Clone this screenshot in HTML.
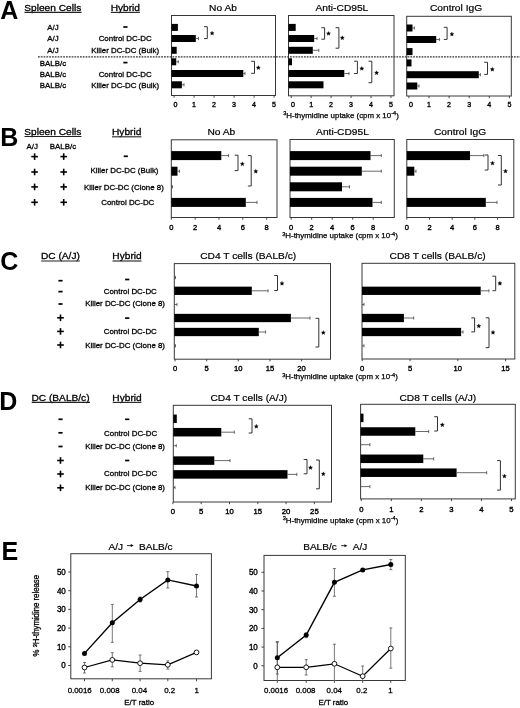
<!DOCTYPE html>
<html><head><meta charset="utf-8"><style>
html,body{margin:0;padding:0;background:#fff;}
body{width:520px;height:708px;overflow:hidden;}
svg{display:block;font-family:"Liberation Sans", sans-serif;will-change:transform;}
#w{width:520px;height:708px;background:#fff;}
</style></head><body>
<div id="w"><svg width="520" height="708" viewBox="0 0 520 708">
<rect width="520" height="708" fill="#fff"/>
<text x="0.3" y="19.4" font-size="25" text-anchor="start" font-weight="bold" fill="#000" >A</text>
<text transform="translate(24.3,10.9) scale(1.075,1.0)" font-size="9.45" text-anchor="start" font-weight="normal" fill="#000" stroke="#000" stroke-width="0.3" >Spleen Cells</text>
<line x1="24.5" y1="12.4" x2="81.5" y2="12.4" stroke="#222" stroke-width="1.1" />
<text transform="translate(125.3,10.9) scale(1.075,1.0)" font-size="9.45" text-anchor="middle" font-weight="normal" fill="#000" stroke="#000" stroke-width="0.3" >Hybrid</text>
<line x1="110.8" y1="12.4" x2="139.9" y2="12.4" stroke="#222" stroke-width="1.1" />
<text x="53.0" y="29.9" font-size="7.9" text-anchor="middle" font-weight="normal" fill="#000" stroke="#000" stroke-width="0.284" >A/J</text>
<text x="53.0" y="41.1" font-size="7.9" text-anchor="middle" font-weight="normal" fill="#000" stroke="#000" stroke-width="0.284" >A/J</text>
<text x="53.0" y="52.5" font-size="7.9" text-anchor="middle" font-weight="normal" fill="#000" stroke="#000" stroke-width="0.284" >A/J</text>
<text x="53.0" y="65.5" font-size="7.9" text-anchor="middle" font-weight="normal" fill="#000" stroke="#000" stroke-width="0.284" >BALB/c</text>
<text x="53.0" y="76.5" font-size="7.9" text-anchor="middle" font-weight="normal" fill="#000" stroke="#000" stroke-width="0.284" >BALB/c</text>
<text x="53.0" y="87.9" font-size="7.9" text-anchor="middle" font-weight="normal" fill="#000" stroke="#000" stroke-width="0.284" >BALB/c</text>
<line x1="123.30000000000001" y1="27.0" x2="127.5" y2="27.0" stroke="#000" stroke-width="1.7" />
<text x="125.2" y="41.1" font-size="7.9" text-anchor="middle" font-weight="normal" fill="#000" stroke="#000" stroke-width="0.284" >Control DC-DC</text>
<text x="125.2" y="52.5" font-size="7.9" text-anchor="middle" font-weight="normal" fill="#000" stroke="#000" stroke-width="0.284" >Killer DC-DC (Bulk)</text>
<line x1="123.30000000000001" y1="62.6" x2="127.5" y2="62.6" stroke="#000" stroke-width="1.7" />
<text x="125.2" y="76.5" font-size="7.9" text-anchor="middle" font-weight="normal" fill="#000" stroke="#000" stroke-width="0.284" >Control DC-DC</text>
<text x="125.2" y="87.9" font-size="7.9" text-anchor="middle" font-weight="normal" fill="#000" stroke="#000" stroke-width="0.284" >Killer DC-DC (Bulk)</text>
<line x1="38" y1="56.9" x2="520" y2="56.9" stroke="#333" stroke-width="1.1" stroke-dasharray="1.75,1.05"/>
<rect x="171.5" y="15.5" width="104.0" height="80.0" fill="none" stroke="#383838" stroke-width="1"/>
<text transform="translate(223.0,11.3) scale(1.075,1.0)" font-size="9.5" text-anchor="middle" font-weight="normal" fill="#000" stroke="#000" stroke-width="0.2" >No Ab</text>
<rect x="171.5" y="23.9" width="6.400000000000006" height="7.0" fill="#000"/>
<rect x="171.5" y="35.0" width="24.30000000000001" height="7.0" fill="#000"/>
<line x1="195.8" y1="38.5" x2="198.5" y2="38.5" stroke="#444" stroke-width="0.8" />
<line x1="198.5" y1="36.9" x2="198.5" y2="40.1" stroke="#444" stroke-width="0.8" />
<rect x="171.5" y="46.8" width="5.199999999999989" height="7.0" fill="#000"/>
<rect x="171.5" y="58.3" width="4.699999999999989" height="7.0" fill="#000"/>
<line x1="176.2" y1="61.8" x2="178.3" y2="61.8" stroke="#444" stroke-width="0.8" />
<line x1="178.3" y1="60.199999999999996" x2="178.3" y2="63.4" stroke="#444" stroke-width="0.8" />
<rect x="171.5" y="70.0" width="71.80000000000001" height="7.0" fill="#000"/>
<line x1="243.3" y1="73.5" x2="245.0" y2="73.5" stroke="#444" stroke-width="0.8" />
<line x1="245.0" y1="71.9" x2="245.0" y2="75.1" stroke="#444" stroke-width="0.8" />
<rect x="171.5" y="81.3" width="10.400000000000006" height="7.0" fill="#000"/>
<line x1="181.9" y1="84.8" x2="184.0" y2="84.8" stroke="#444" stroke-width="0.8" />
<line x1="184.0" y1="83.2" x2="184.0" y2="86.39999999999999" stroke="#444" stroke-width="0.8" />
<polyline points="204.0,26.7 207.3,26.7 207.3,38.6 204.0,38.6" fill="none" stroke="#333" stroke-width="1"/>
<polygon points="212.10,31.15 212.69,32.49 214.14,32.64 213.05,33.61 213.36,35.04 212.10,34.30 210.84,35.04 211.15,33.61 210.06,32.64 211.51,32.49" fill="#000" stroke="#000" stroke-width="0.3"/>
<polyline points="251.2,61.3 254.5,61.3 254.5,73.3 251.2,73.3" fill="none" stroke="#333" stroke-width="1"/>
<polygon points="258.30,65.55 258.89,66.89 260.34,67.04 259.25,68.01 259.56,69.44 258.30,68.70 257.04,69.44 257.35,68.01 256.26,67.04 257.71,66.89" fill="#000" stroke="#000" stroke-width="0.3"/>
<line x1="174.1" y1="95.5" x2="174.1" y2="97.7" stroke="#333" stroke-width="0.9" />
<text x="175.5" y="106.5" font-size="7.1" text-anchor="middle" font-weight="normal" fill="#000" stroke="#000" stroke-width="0.355" >0</text>
<line x1="194.1" y1="95.5" x2="194.1" y2="97.7" stroke="#333" stroke-width="0.9" />
<text x="194.1" y="106.5" font-size="7.1" text-anchor="middle" font-weight="normal" fill="#000" stroke="#000" stroke-width="0.355" >1</text>
<line x1="214.1" y1="95.5" x2="214.1" y2="97.7" stroke="#333" stroke-width="0.9" />
<text x="214.1" y="106.5" font-size="7.1" text-anchor="middle" font-weight="normal" fill="#000" stroke="#000" stroke-width="0.355" >2</text>
<line x1="234.1" y1="95.5" x2="234.1" y2="97.7" stroke="#333" stroke-width="0.9" />
<text x="234.1" y="106.5" font-size="7.1" text-anchor="middle" font-weight="normal" fill="#000" stroke="#000" stroke-width="0.355" >3</text>
<line x1="254.1" y1="95.5" x2="254.1" y2="97.7" stroke="#333" stroke-width="0.9" />
<text x="254.1" y="106.5" font-size="7.1" text-anchor="middle" font-weight="normal" fill="#000" stroke="#000" stroke-width="0.355" >4</text>
<line x1="274.1" y1="95.5" x2="274.1" y2="97.7" stroke="#333" stroke-width="0.9" />
<text x="274.1" y="106.5" font-size="7.1" text-anchor="middle" font-weight="normal" fill="#000" stroke="#000" stroke-width="0.355" >5</text>
<rect x="288.5" y="15.5" width="105.5" height="80.3" fill="none" stroke="#383838" stroke-width="1"/>
<text transform="translate(341.9,11.3) scale(1.075,1.0)" font-size="9.5" text-anchor="middle" font-weight="normal" fill="#000" stroke="#000" stroke-width="0.2" >Anti-CD95L</text>
<rect x="288.5" y="23.9" width="7.199999999999989" height="7.0" fill="#000"/>
<rect x="288.5" y="35.0" width="25.69999999999999" height="7.0" fill="#000"/>
<line x1="314.2" y1="38.5" x2="317.0" y2="38.5" stroke="#444" stroke-width="0.8" />
<line x1="317.0" y1="36.9" x2="317.0" y2="40.1" stroke="#444" stroke-width="0.8" />
<rect x="288.5" y="46.8" width="24.30000000000001" height="7.0" fill="#000"/>
<line x1="312.8" y1="50.3" x2="318.8" y2="50.3" stroke="#444" stroke-width="0.8" />
<line x1="318.8" y1="48.699999999999996" x2="318.8" y2="51.9" stroke="#444" stroke-width="0.8" />
<rect x="288.5" y="58.3" width="3.5" height="7.0" fill="#000"/>
<rect x="288.5" y="70.0" width="55.80000000000001" height="7.0" fill="#000"/>
<line x1="344.3" y1="73.5" x2="349.0" y2="73.5" stroke="#444" stroke-width="0.8" />
<line x1="349.0" y1="71.9" x2="349.0" y2="75.1" stroke="#444" stroke-width="0.8" />
<rect x="288.5" y="81.3" width="35.0" height="7.0" fill="#000"/>
<polyline points="321.3,27.7 324.6,27.7 324.6,39.2 321.3,39.2" fill="none" stroke="#333" stroke-width="1"/>
<polygon points="328.50,31.45 329.09,32.79 330.54,32.94 329.45,33.91 329.76,35.34 328.50,34.60 327.24,35.34 327.55,33.91 326.46,32.94 327.91,32.79" fill="#000" stroke="#000" stroke-width="0.3"/>
<polyline points="335.59999999999997,27.7 338.9,27.7 338.9,48.2 335.59999999999997,48.2" fill="none" stroke="#333" stroke-width="1"/>
<polygon points="342.30,35.75 342.89,37.09 344.34,37.24 343.25,38.21 343.56,39.64 342.30,38.90 341.04,39.64 341.35,38.21 340.26,37.24 341.71,37.09" fill="#000" stroke="#000" stroke-width="0.3"/>
<polyline points="354.09999999999997,61.2 357.4,61.2 357.4,73.5 354.09999999999997,73.5" fill="none" stroke="#333" stroke-width="1"/>
<polygon points="361.80,66.45 362.39,67.79 363.84,67.94 362.75,68.91 363.06,70.34 361.80,69.60 360.54,70.34 360.85,68.91 359.76,67.94 361.21,67.79" fill="#000" stroke="#000" stroke-width="0.3"/>
<polyline points="368.5,61.2 371.8,61.2 371.8,82.7 368.5,82.7" fill="none" stroke="#333" stroke-width="1"/>
<polygon points="376.60,70.75 377.19,72.09 378.64,72.24 377.55,73.21 377.86,74.64 376.60,73.90 375.34,74.64 375.65,73.21 374.56,72.24 376.01,72.09" fill="#000" stroke="#000" stroke-width="0.3"/>
<line x1="291.2" y1="95.8" x2="291.2" y2="98.0" stroke="#333" stroke-width="0.9" />
<text x="293.0" y="106.5" font-size="7.1" text-anchor="middle" font-weight="normal" fill="#000" stroke="#000" stroke-width="0.355" >0</text>
<line x1="311.15" y1="95.8" x2="311.15" y2="98.0" stroke="#333" stroke-width="0.9" />
<text x="311.15" y="106.5" font-size="7.1" text-anchor="middle" font-weight="normal" fill="#000" stroke="#000" stroke-width="0.355" >1</text>
<line x1="331.09999999999997" y1="95.8" x2="331.09999999999997" y2="98.0" stroke="#333" stroke-width="0.9" />
<text x="331.09999999999997" y="106.5" font-size="7.1" text-anchor="middle" font-weight="normal" fill="#000" stroke="#000" stroke-width="0.355" >2</text>
<line x1="351.04999999999995" y1="95.8" x2="351.04999999999995" y2="98.0" stroke="#333" stroke-width="0.9" />
<text x="351.04999999999995" y="106.5" font-size="7.1" text-anchor="middle" font-weight="normal" fill="#000" stroke="#000" stroke-width="0.355" >3</text>
<line x1="371.0" y1="95.8" x2="371.0" y2="98.0" stroke="#333" stroke-width="0.9" />
<text x="371.0" y="106.5" font-size="7.1" text-anchor="middle" font-weight="normal" fill="#000" stroke="#000" stroke-width="0.355" >4</text>
<line x1="390.95" y1="95.8" x2="390.95" y2="98.0" stroke="#333" stroke-width="0.9" />
<text x="390.95" y="106.5" font-size="7.1" text-anchor="middle" font-weight="normal" fill="#000" stroke="#000" stroke-width="0.355" >5</text>
<rect x="406.7" y="16.3" width="104.60000000000002" height="79.7" fill="none" stroke="#383838" stroke-width="1"/>
<text transform="translate(456.0,11.3) scale(1.075,1.0)" font-size="9.5" text-anchor="middle" font-weight="normal" fill="#000" stroke="#000" stroke-width="0.2" >Control IgG</text>
<rect x="406.7" y="24.5" width="5.800000000000011" height="7.0" fill="#000"/>
<line x1="412.5" y1="28.0" x2="414.4" y2="28.0" stroke="#444" stroke-width="0.8" />
<line x1="414.4" y1="26.4" x2="414.4" y2="29.6" stroke="#444" stroke-width="0.8" />
<rect x="406.7" y="36.0" width="29.5" height="7.0" fill="#000"/>
<line x1="436.2" y1="39.5" x2="439.4" y2="39.5" stroke="#444" stroke-width="0.8" />
<line x1="439.4" y1="37.9" x2="439.4" y2="41.1" stroke="#444" stroke-width="0.8" />
<rect x="406.7" y="48.1" width="5.800000000000011" height="7.0" fill="#000"/>
<rect x="406.7" y="59.4" width="4.800000000000011" height="7.0" fill="#000"/>
<rect x="406.7" y="71.2" width="72.10000000000002" height="7.0" fill="#000"/>
<line x1="478.8" y1="74.7" x2="480.4" y2="74.7" stroke="#444" stroke-width="0.8" />
<line x1="480.4" y1="73.10000000000001" x2="480.4" y2="76.3" stroke="#444" stroke-width="0.8" />
<rect x="406.7" y="82.5" width="10.600000000000023" height="7.0" fill="#000"/>
<line x1="417.3" y1="86.0" x2="419.0" y2="86.0" stroke="#444" stroke-width="0.8" />
<line x1="419.0" y1="84.4" x2="419.0" y2="87.6" stroke="#444" stroke-width="0.8" />
<polyline points="443.8,27.3 447.1,27.3 447.1,39.4 443.8,39.4" fill="none" stroke="#333" stroke-width="1"/>
<polygon points="451.90,32.05 452.49,33.39 453.94,33.54 452.85,34.51 453.16,35.94 451.90,35.20 450.64,35.94 450.95,34.51 449.86,33.54 451.31,33.39" fill="#000" stroke="#000" stroke-width="0.3"/>
<polyline points="484.2,62.3 487.5,62.3 487.5,74.4 484.2,74.4" fill="none" stroke="#333" stroke-width="1"/>
<polygon points="492.30,67.25 492.89,68.59 494.34,68.74 493.25,69.71 493.56,71.14 492.30,70.40 491.04,71.14 491.35,69.71 490.26,68.74 491.71,68.59" fill="#000" stroke="#000" stroke-width="0.3"/>
<line x1="408.9" y1="96.0" x2="408.9" y2="98.2" stroke="#333" stroke-width="0.9" />
<text x="411.09999999999997" y="106.5" font-size="7.1" text-anchor="middle" font-weight="normal" fill="#000" stroke="#000" stroke-width="0.355" >0</text>
<line x1="429.0" y1="96.0" x2="429.0" y2="98.2" stroke="#333" stroke-width="0.9" />
<text x="429.0" y="106.5" font-size="7.1" text-anchor="middle" font-weight="normal" fill="#000" stroke="#000" stroke-width="0.355" >1</text>
<line x1="449.09999999999997" y1="96.0" x2="449.09999999999997" y2="98.2" stroke="#333" stroke-width="0.9" />
<text x="449.09999999999997" y="106.5" font-size="7.1" text-anchor="middle" font-weight="normal" fill="#000" stroke="#000" stroke-width="0.355" >2</text>
<line x1="469.2" y1="96.0" x2="469.2" y2="98.2" stroke="#333" stroke-width="0.9" />
<text x="469.2" y="106.5" font-size="7.1" text-anchor="middle" font-weight="normal" fill="#000" stroke="#000" stroke-width="0.355" >3</text>
<line x1="489.29999999999995" y1="96.0" x2="489.29999999999995" y2="98.2" stroke="#333" stroke-width="0.9" />
<text x="489.29999999999995" y="106.5" font-size="7.1" text-anchor="middle" font-weight="normal" fill="#000" stroke="#000" stroke-width="0.355" >4</text>
<line x1="509.4" y1="96.0" x2="509.4" y2="98.2" stroke="#333" stroke-width="0.9" />
<text x="509.4" y="106.5" font-size="7.1" text-anchor="middle" font-weight="normal" fill="#000" stroke="#000" stroke-width="0.355" >5</text>
<text x="341" y="117.5" font-size="7.9" text-anchor="middle" fill="#000" stroke="#000" stroke-width="0.25"><tspan font-size="5.6" dy="-2.3">3</tspan><tspan dy="2.3">H-thymidine uptake (cpm x 10</tspan><tspan font-size="5.6" dy="-2.3">-4</tspan><tspan dy="2.3">)</tspan></text>
<text x="0.3" y="145.6" font-size="25" text-anchor="start" font-weight="bold" fill="#000" >B</text>
<text transform="translate(24.3,134.7) scale(1.075,1.0)" font-size="9.45" text-anchor="start" font-weight="normal" fill="#000" stroke="#000" stroke-width="0.3" >Spleen Cells</text>
<line x1="24.5" y1="136.5" x2="81.5" y2="136.5" stroke="#222" stroke-width="1.1" />
<text transform="translate(126.7,134.7) scale(1.075,1.0)" font-size="9.45" text-anchor="middle" font-weight="normal" fill="#000" stroke="#000" stroke-width="0.3" >Hybrid</text>
<line x1="112.0" y1="136.8" x2="141.4" y2="136.8" stroke="#222" stroke-width="1.1" />
<text x="32.3" y="148.8" font-size="7.9" text-anchor="middle" font-weight="normal" fill="#000" stroke="#000" stroke-width="0.284" >A/J</text>
<text x="63.0" y="148.8" font-size="7.9" text-anchor="middle" font-weight="normal" fill="#000" stroke="#000" stroke-width="0.284" >BALB/c</text>
<line x1="31.3" y1="156.6" x2="37.9" y2="156.6" stroke="#000" stroke-width="1.6" />
<line x1="34.6" y1="153.29999999999998" x2="34.6" y2="159.9" stroke="#000" stroke-width="1.6" />
<line x1="60.400000000000006" y1="156.6" x2="67.0" y2="156.6" stroke="#000" stroke-width="1.6" />
<line x1="63.7" y1="153.29999999999998" x2="63.7" y2="159.9" stroke="#000" stroke-width="1.6" />
<line x1="31.3" y1="172.0" x2="37.9" y2="172.0" stroke="#000" stroke-width="1.6" />
<line x1="34.6" y1="168.7" x2="34.6" y2="175.3" stroke="#000" stroke-width="1.6" />
<line x1="60.400000000000006" y1="172.0" x2="67.0" y2="172.0" stroke="#000" stroke-width="1.6" />
<line x1="63.7" y1="168.7" x2="63.7" y2="175.3" stroke="#000" stroke-width="1.6" />
<line x1="31.3" y1="186.9" x2="37.9" y2="186.9" stroke="#000" stroke-width="1.6" />
<line x1="34.6" y1="183.6" x2="34.6" y2="190.20000000000002" stroke="#000" stroke-width="1.6" />
<line x1="60.400000000000006" y1="186.9" x2="67.0" y2="186.9" stroke="#000" stroke-width="1.6" />
<line x1="63.7" y1="183.6" x2="63.7" y2="190.20000000000002" stroke="#000" stroke-width="1.6" />
<line x1="31.3" y1="202.3" x2="37.9" y2="202.3" stroke="#000" stroke-width="1.6" />
<line x1="34.6" y1="199.0" x2="34.6" y2="205.60000000000002" stroke="#000" stroke-width="1.6" />
<line x1="60.400000000000006" y1="202.3" x2="67.0" y2="202.3" stroke="#000" stroke-width="1.6" />
<line x1="63.7" y1="199.0" x2="63.7" y2="205.60000000000002" stroke="#000" stroke-width="1.6" />
<line x1="123.7" y1="156.3" x2="127.89999999999999" y2="156.3" stroke="#000" stroke-width="1.7" />
<text x="124.5" y="173.1" font-size="7.9" text-anchor="middle" font-weight="normal" fill="#000" stroke="#000" stroke-width="0.284" >Killer DC-DC (Bulk)</text>
<text x="123.9" y="190.0" font-size="7.9" text-anchor="middle" font-weight="normal" fill="#000" stroke="#000" stroke-width="0.284" >Killer DC-DC (Clone 8)</text>
<text x="127.8" y="204.6" font-size="7.9" text-anchor="middle" font-weight="normal" fill="#000" stroke="#000" stroke-width="0.284" >Control DC-DC</text>
<rect x="171.3" y="139.8" width="105.69999999999999" height="77.69999999999999" fill="none" stroke="#383838" stroke-width="1"/>
<text transform="translate(221.3,135.1) scale(1.075,1.0)" font-size="9.5" text-anchor="middle" font-weight="normal" fill="#000" stroke="#000" stroke-width="0.2" >No Ab</text>
<rect x="171.3" y="151.1" width="50.0" height="9.0" fill="#000"/>
<line x1="221.3" y1="155.6" x2="228.6" y2="155.6" stroke="#444" stroke-width="0.8" />
<line x1="228.6" y1="154.0" x2="228.6" y2="157.2" stroke="#444" stroke-width="0.8" />
<rect x="171.3" y="166.7" width="6.199999999999989" height="9.0" fill="#000"/>
<line x1="177.5" y1="171.2" x2="179.5" y2="171.2" stroke="#444" stroke-width="0.8" />
<line x1="179.5" y1="169.6" x2="179.5" y2="172.79999999999998" stroke="#444" stroke-width="0.8" />
<line x1="171.3" y1="186.8" x2="172.5" y2="186.8" stroke="#444" stroke-width="0.8" />
<line x1="172.5" y1="185.20000000000002" x2="172.5" y2="188.4" stroke="#444" stroke-width="0.8" />
<rect x="171.3" y="197.9" width="74.5" height="9.0" fill="#000"/>
<line x1="245.8" y1="202.4" x2="257.0" y2="202.4" stroke="#444" stroke-width="0.8" />
<line x1="257.0" y1="200.8" x2="257.0" y2="204.0" stroke="#444" stroke-width="0.8" />
<polyline points="234.7,155.2 238.0,155.2 238.0,170.6 234.7,170.6" fill="none" stroke="#333" stroke-width="1"/>
<polygon points="242.30,161.85 242.89,163.19 244.34,163.34 243.25,164.31 243.56,165.74 242.30,165.00 241.04,165.74 241.35,164.31 240.26,163.34 241.71,163.19" fill="#000" stroke="#000" stroke-width="0.3"/>
<polyline points="247.89999999999998,155.6 251.2,155.6 251.2,186.0 247.89999999999998,186.0" fill="none" stroke="#333" stroke-width="1"/>
<polygon points="255.80,169.25 256.39,170.59 257.84,170.74 256.75,171.71 257.06,173.14 255.80,172.40 254.54,173.14 254.85,171.71 253.76,170.74 255.21,170.59" fill="#000" stroke="#000" stroke-width="0.3"/>
<line x1="171.3" y1="217.5" x2="171.3" y2="219.7" stroke="#333" stroke-width="0.9" />
<text x="171.3" y="229.6" font-size="7.5" text-anchor="middle" font-weight="normal" fill="#000" stroke="#000" stroke-width="0.375" >0</text>
<line x1="195.14000000000001" y1="217.5" x2="195.14000000000001" y2="219.7" stroke="#333" stroke-width="0.9" />
<text x="195.14000000000001" y="229.6" font-size="7.5" text-anchor="middle" font-weight="normal" fill="#000" stroke="#000" stroke-width="0.375" >2</text>
<line x1="218.98000000000002" y1="217.5" x2="218.98000000000002" y2="219.7" stroke="#333" stroke-width="0.9" />
<text x="218.98000000000002" y="229.6" font-size="7.5" text-anchor="middle" font-weight="normal" fill="#000" stroke="#000" stroke-width="0.375" >4</text>
<line x1="242.82" y1="217.5" x2="242.82" y2="219.7" stroke="#333" stroke-width="0.9" />
<text x="242.82" y="229.6" font-size="7.5" text-anchor="middle" font-weight="normal" fill="#000" stroke="#000" stroke-width="0.375" >6</text>
<line x1="266.66" y1="217.5" x2="266.66" y2="219.7" stroke="#333" stroke-width="0.9" />
<text x="266.66" y="229.6" font-size="7.5" text-anchor="middle" font-weight="normal" fill="#000" stroke="#000" stroke-width="0.375" >8</text>
<rect x="290.0" y="139.5" width="104.30000000000001" height="78.0" fill="none" stroke="#383838" stroke-width="1"/>
<text transform="translate(342.5,135.1) scale(1.075,1.0)" font-size="9.5" text-anchor="middle" font-weight="normal" fill="#000" stroke="#000" stroke-width="0.2" >Anti-CD95L</text>
<rect x="290.0" y="151.1" width="80.5" height="9.0" fill="#000"/>
<line x1="370.5" y1="155.6" x2="381.3" y2="155.6" stroke="#444" stroke-width="0.8" />
<line x1="381.3" y1="154.0" x2="381.3" y2="157.2" stroke="#444" stroke-width="0.8" />
<rect x="290.0" y="166.7" width="71.80000000000001" height="9.0" fill="#000"/>
<line x1="361.8" y1="171.2" x2="381.3" y2="171.2" stroke="#444" stroke-width="0.8" />
<line x1="381.3" y1="169.6" x2="381.3" y2="172.79999999999998" stroke="#444" stroke-width="0.8" />
<rect x="290.0" y="182.3" width="52.0" height="9.0" fill="#000"/>
<line x1="342.0" y1="186.8" x2="349.5" y2="186.8" stroke="#444" stroke-width="0.8" />
<line x1="349.5" y1="185.20000000000002" x2="349.5" y2="188.4" stroke="#444" stroke-width="0.8" />
<rect x="290.0" y="197.9" width="82.5" height="9.0" fill="#000"/>
<line x1="372.5" y1="202.4" x2="381.3" y2="202.4" stroke="#444" stroke-width="0.8" />
<line x1="381.3" y1="200.8" x2="381.3" y2="204.0" stroke="#444" stroke-width="0.8" />
<line x1="291.2" y1="217.5" x2="291.2" y2="219.7" stroke="#333" stroke-width="0.9" />
<text x="291.2" y="229.6" font-size="7.5" text-anchor="middle" font-weight="normal" fill="#000" stroke="#000" stroke-width="0.375" >0</text>
<line x1="311.7" y1="217.5" x2="311.7" y2="219.7" stroke="#333" stroke-width="0.9" />
<text x="311.7" y="229.6" font-size="7.5" text-anchor="middle" font-weight="normal" fill="#000" stroke="#000" stroke-width="0.375" >2</text>
<line x1="332.2" y1="217.5" x2="332.2" y2="219.7" stroke="#333" stroke-width="0.9" />
<text x="332.2" y="229.6" font-size="7.5" text-anchor="middle" font-weight="normal" fill="#000" stroke="#000" stroke-width="0.375" >4</text>
<line x1="352.7" y1="217.5" x2="352.7" y2="219.7" stroke="#333" stroke-width="0.9" />
<text x="352.7" y="229.6" font-size="7.5" text-anchor="middle" font-weight="normal" fill="#000" stroke="#000" stroke-width="0.375" >6</text>
<line x1="373.2" y1="217.5" x2="373.2" y2="219.7" stroke="#333" stroke-width="0.9" />
<text x="373.2" y="229.6" font-size="7.5" text-anchor="middle" font-weight="normal" fill="#000" stroke="#000" stroke-width="0.375" >8</text>
<rect x="406.8" y="139.5" width="106.99999999999994" height="78.0" fill="none" stroke="#383838" stroke-width="1"/>
<text transform="translate(460.0,135.1) scale(1.075,1.0)" font-size="9.5" text-anchor="middle" font-weight="normal" fill="#000" stroke="#000" stroke-width="0.2" >Control IgG</text>
<rect x="406.8" y="151.1" width="63.19999999999999" height="9.0" fill="#000"/>
<line x1="470.0" y1="155.6" x2="483.8" y2="155.6" stroke="#444" stroke-width="0.8" />
<line x1="483.8" y1="154.0" x2="483.8" y2="157.2" stroke="#444" stroke-width="0.8" />
<rect x="406.8" y="166.7" width="7.5" height="9.0" fill="#000"/>
<line x1="414.3" y1="171.2" x2="416.0" y2="171.2" stroke="#444" stroke-width="0.8" />
<line x1="416.0" y1="169.6" x2="416.0" y2="172.79999999999998" stroke="#444" stroke-width="0.8" />
<rect x="406.8" y="197.9" width="79.0" height="9.0" fill="#000"/>
<line x1="485.8" y1="202.4" x2="497.0" y2="202.4" stroke="#444" stroke-width="0.8" />
<line x1="497.0" y1="200.8" x2="497.0" y2="204.0" stroke="#444" stroke-width="0.8" />
<polyline points="484.7,155.0 488.0,155.0 488.0,170.0 484.7,170.0" fill="none" stroke="#333" stroke-width="1"/>
<polygon points="492.50,161.05 493.09,162.39 494.54,162.54 493.45,163.51 493.76,164.94 492.50,164.20 491.24,164.94 491.55,163.51 490.46,162.54 491.91,162.39" fill="#000" stroke="#000" stroke-width="0.3"/>
<polyline points="498.0,155.5 501.3,155.5 501.3,185.0 498.0,185.0" fill="none" stroke="#333" stroke-width="1"/>
<polygon points="505.50,169.05 506.09,170.39 507.54,170.54 506.45,171.51 506.76,172.94 505.50,172.20 504.24,172.94 504.55,171.51 503.46,170.54 504.91,170.39" fill="#000" stroke="#000" stroke-width="0.3"/>
<line x1="406.8" y1="217.5" x2="406.8" y2="219.7" stroke="#333" stroke-width="0.9" />
<text x="406.8" y="229.6" font-size="7.5" text-anchor="middle" font-weight="normal" fill="#000" stroke="#000" stroke-width="0.375" >0</text>
<line x1="429.48" y1="217.5" x2="429.48" y2="219.7" stroke="#333" stroke-width="0.9" />
<text x="429.48" y="229.6" font-size="7.5" text-anchor="middle" font-weight="normal" fill="#000" stroke="#000" stroke-width="0.375" >2</text>
<line x1="452.16" y1="217.5" x2="452.16" y2="219.7" stroke="#333" stroke-width="0.9" />
<text x="452.16" y="229.6" font-size="7.5" text-anchor="middle" font-weight="normal" fill="#000" stroke="#000" stroke-width="0.375" >4</text>
<line x1="474.84000000000003" y1="217.5" x2="474.84000000000003" y2="219.7" stroke="#333" stroke-width="0.9" />
<text x="474.84000000000003" y="229.6" font-size="7.5" text-anchor="middle" font-weight="normal" fill="#000" stroke="#000" stroke-width="0.375" >6</text>
<line x1="497.52" y1="217.5" x2="497.52" y2="219.7" stroke="#333" stroke-width="0.9" />
<text x="497.52" y="229.6" font-size="7.5" text-anchor="middle" font-weight="normal" fill="#000" stroke="#000" stroke-width="0.375" >8</text>
<text x="340" y="238.10000000000002" font-size="7.9" text-anchor="middle" fill="#000" stroke="#000" stroke-width="0.25"><tspan font-size="5.6" dy="-2.3">3</tspan><tspan dy="2.3">H-thymidine uptake (cpm x 10</tspan><tspan font-size="5.6" dy="-2.3">-4</tspan><tspan dy="2.3">)</tspan></text>
<text x="0.3" y="269.9" font-size="25" text-anchor="start" font-weight="bold" fill="#000" >C</text>
<text transform="translate(41.0,259.2) scale(1.075,1.0)" font-size="9.45" text-anchor="start" font-weight="normal" fill="#000" stroke="#000" stroke-width="0.3" >DC (A/J)</text>
<line x1="41.2" y1="261.0" x2="79.8" y2="261.0" stroke="#222" stroke-width="1.1" />
<text transform="translate(127.0,258.9) scale(1.075,1.0)" font-size="9.45" text-anchor="middle" font-weight="normal" fill="#000" stroke="#000" stroke-width="0.3" >Hybrid</text>
<line x1="112.5" y1="261.0" x2="141.5" y2="261.0" stroke="#222" stroke-width="1.1" />
<line x1="58.4" y1="280.7" x2="62.6" y2="280.7" stroke="#000" stroke-width="1.7" />
<line x1="58.4" y1="291.6" x2="62.6" y2="291.6" stroke="#000" stroke-width="1.7" />
<line x1="58.4" y1="304.0" x2="62.6" y2="304.0" stroke="#000" stroke-width="1.7" />
<line x1="57.2" y1="317.8" x2="63.8" y2="317.8" stroke="#000" stroke-width="1.6" />
<line x1="60.5" y1="314.5" x2="60.5" y2="321.1" stroke="#000" stroke-width="1.6" />
<line x1="57.2" y1="331.4" x2="63.8" y2="331.4" stroke="#000" stroke-width="1.6" />
<line x1="60.5" y1="328.09999999999997" x2="60.5" y2="334.7" stroke="#000" stroke-width="1.6" />
<line x1="57.2" y1="345.0" x2="63.8" y2="345.0" stroke="#000" stroke-width="1.6" />
<line x1="60.5" y1="341.7" x2="60.5" y2="348.3" stroke="#000" stroke-width="1.6" />
<line x1="125.10000000000001" y1="279.5" x2="129.3" y2="279.5" stroke="#000" stroke-width="1.7" />
<text x="130.3" y="294.2" font-size="7.9" text-anchor="middle" font-weight="normal" fill="#000" stroke="#000" stroke-width="0.284" >Control DC-DC</text>
<text x="125.1" y="306.2" font-size="7.9" text-anchor="middle" font-weight="normal" fill="#000" stroke="#000" stroke-width="0.284" >Killer DC-DC (Clone 8)</text>
<line x1="125.10000000000001" y1="318.1" x2="129.3" y2="318.1" stroke="#000" stroke-width="1.7" />
<text x="130.3" y="334.2" font-size="7.9" text-anchor="middle" font-weight="normal" fill="#000" stroke="#000" stroke-width="0.284" >Control DC-DC</text>
<text x="125.1" y="347.9" font-size="7.9" text-anchor="middle" font-weight="normal" fill="#000" stroke="#000" stroke-width="0.284" >Killer DC-DC (Clone 8)</text>
<rect x="174.3" y="263.6" width="156.2" height="95.59999999999997" fill="none" stroke="#383838" stroke-width="1"/>
<text transform="translate(248.2,259.1) scale(1.075,1.0)" font-size="9.5" text-anchor="middle" font-weight="normal" fill="#000" stroke="#000" stroke-width="0.2" >CD4 T cells (BALB/c)</text>
<line x1="174.3" y1="277.5" x2="175.5" y2="277.5" stroke="#444" stroke-width="0.8" />
<line x1="175.5" y1="275.9" x2="175.5" y2="279.1" stroke="#444" stroke-width="0.8" />
<rect x="174.3" y="286.65000000000003" width="77.5" height="8.3" fill="#000"/>
<line x1="251.8" y1="290.8" x2="268.0" y2="290.8" stroke="#444" stroke-width="0.8" />
<line x1="268.0" y1="289.2" x2="268.0" y2="292.40000000000003" stroke="#444" stroke-width="0.8" />
<line x1="174.3" y1="304.5" x2="177.0" y2="304.5" stroke="#444" stroke-width="0.8" />
<line x1="177.0" y1="302.9" x2="177.0" y2="306.1" stroke="#444" stroke-width="0.8" />
<rect x="174.3" y="313.85" width="116.59999999999997" height="8.3" fill="#000"/>
<line x1="290.9" y1="318.0" x2="310.0" y2="318.0" stroke="#444" stroke-width="0.8" />
<line x1="310.0" y1="316.4" x2="310.0" y2="319.6" stroke="#444" stroke-width="0.8" />
<rect x="174.3" y="327.85" width="84.5" height="8.3" fill="#000"/>
<line x1="258.8" y1="332.0" x2="265.6" y2="332.0" stroke="#444" stroke-width="0.8" />
<line x1="265.6" y1="330.4" x2="265.6" y2="333.6" stroke="#444" stroke-width="0.8" />
<line x1="174.3" y1="345.8" x2="175.5" y2="345.8" stroke="#444" stroke-width="0.8" />
<line x1="175.5" y1="344.2" x2="175.5" y2="347.40000000000003" stroke="#444" stroke-width="0.8" />
<polyline points="274.2,275.5 277.5,275.5 277.5,290.5 274.2,290.5" fill="none" stroke="#333" stroke-width="1"/>
<polygon points="282.00,281.35 282.59,282.69 284.04,282.84 282.95,283.81 283.26,285.24 282.00,284.50 280.74,285.24 281.05,283.81 279.96,282.84 281.41,282.69" fill="#000" stroke="#000" stroke-width="0.3"/>
<polyline points="315.5,318.3 318.8,318.3 318.8,347.0 315.5,347.0" fill="none" stroke="#333" stroke-width="1"/>
<polygon points="323.30,330.55 323.89,331.89 325.34,332.04 324.25,333.01 324.56,334.44 323.30,333.70 322.04,334.44 322.35,333.01 321.26,332.04 322.71,331.89" fill="#000" stroke="#000" stroke-width="0.3"/>
<line x1="175.0" y1="359.2" x2="175.0" y2="361.4" stroke="#333" stroke-width="0.9" />
<text x="175.0" y="371.4" font-size="7.6" text-anchor="middle" font-weight="normal" fill="#000" stroke="#000" stroke-width="0.38" >0</text>
<line x1="206.65" y1="359.2" x2="206.65" y2="361.4" stroke="#333" stroke-width="0.9" />
<text x="206.65" y="371.4" font-size="7.6" text-anchor="middle" font-weight="normal" fill="#000" stroke="#000" stroke-width="0.38" >5</text>
<line x1="238.3" y1="359.2" x2="238.3" y2="361.4" stroke="#333" stroke-width="0.9" />
<text x="238.3" y="371.4" font-size="7.6" text-anchor="middle" font-weight="normal" fill="#000" stroke="#000" stroke-width="0.38" >10</text>
<line x1="269.95" y1="359.2" x2="269.95" y2="361.4" stroke="#333" stroke-width="0.9" />
<text x="269.95" y="371.4" font-size="7.6" text-anchor="middle" font-weight="normal" fill="#000" stroke="#000" stroke-width="0.38" >15</text>
<line x1="301.6" y1="359.2" x2="301.6" y2="361.4" stroke="#333" stroke-width="0.9" />
<text x="301.6" y="371.4" font-size="7.6" text-anchor="middle" font-weight="normal" fill="#000" stroke="#000" stroke-width="0.38" >20</text>
<rect x="362.0" y="263.3" width="152.79999999999995" height="95.69999999999999" fill="none" stroke="#383838" stroke-width="1"/>
<text transform="translate(437.6,258.5) scale(1.075,1.0)" font-size="9.5" text-anchor="middle" font-weight="normal" fill="#000" stroke="#000" stroke-width="0.2" >CD8 T cells (BALB/c)</text>
<rect x="362.0" y="286.65000000000003" width="118.69999999999999" height="8.3" fill="#000"/>
<line x1="480.7" y1="290.8" x2="488.9" y2="290.8" stroke="#444" stroke-width="0.8" />
<line x1="488.9" y1="289.2" x2="488.9" y2="292.40000000000003" stroke="#444" stroke-width="0.8" />
<line x1="362.0" y1="304.5" x2="364.0" y2="304.5" stroke="#444" stroke-width="0.8" />
<line x1="364.0" y1="302.9" x2="364.0" y2="306.1" stroke="#444" stroke-width="0.8" />
<rect x="362.0" y="313.85" width="41.89999999999998" height="8.3" fill="#000"/>
<line x1="403.9" y1="318.0" x2="413.7" y2="318.0" stroke="#444" stroke-width="0.8" />
<line x1="413.7" y1="316.4" x2="413.7" y2="319.6" stroke="#444" stroke-width="0.8" />
<rect x="362.0" y="327.85" width="99.10000000000002" height="8.3" fill="#000"/>
<line x1="461.1" y1="332.0" x2="463.0" y2="332.0" stroke="#444" stroke-width="0.8" />
<line x1="463.0" y1="330.4" x2="463.0" y2="333.6" stroke="#444" stroke-width="0.8" />
<line x1="362.0" y1="345.8" x2="364.0" y2="345.8" stroke="#444" stroke-width="0.8" />
<line x1="364.0" y1="344.2" x2="364.0" y2="347.40000000000003" stroke="#444" stroke-width="0.8" />
<polyline points="492.4,276.2 495.7,276.2 495.7,290.7 492.4,290.7" fill="none" stroke="#333" stroke-width="1"/>
<polygon points="499.90,281.25 500.49,282.59 501.94,282.74 500.85,283.71 501.16,285.14 499.90,284.40 498.64,285.14 498.95,283.71 497.86,282.74 499.31,282.59" fill="#000" stroke="#000" stroke-width="0.3"/>
<polyline points="471.3,317.9 474.6,317.9 474.6,331.9 471.3,331.9" fill="none" stroke="#333" stroke-width="1"/>
<polygon points="478.80,323.95 479.39,325.29 480.84,325.44 479.75,326.41 480.06,327.84 478.80,327.10 477.54,327.84 477.85,326.41 476.76,325.44 478.21,325.29" fill="#000" stroke="#000" stroke-width="0.3"/>
<polyline points="485.7,317.8 489.0,317.8 489.0,347.6 485.7,347.6" fill="none" stroke="#333" stroke-width="1"/>
<polygon points="493.00,330.35 493.59,331.69 495.04,331.84 493.95,332.81 494.26,334.24 493.00,333.50 491.74,334.24 492.05,332.81 490.96,331.84 492.41,331.69" fill="#000" stroke="#000" stroke-width="0.3"/>
<line x1="362.2" y1="359.0" x2="362.2" y2="361.2" stroke="#333" stroke-width="0.9" />
<text x="362.2" y="371.4" font-size="7.6" text-anchor="middle" font-weight="normal" fill="#000" stroke="#000" stroke-width="0.38" >0</text>
<line x1="410.0" y1="359.0" x2="410.0" y2="361.2" stroke="#333" stroke-width="0.9" />
<text x="410.0" y="371.4" font-size="7.6" text-anchor="middle" font-weight="normal" fill="#000" stroke="#000" stroke-width="0.38" >5</text>
<line x1="457.8" y1="359.0" x2="457.8" y2="361.2" stroke="#333" stroke-width="0.9" />
<text x="457.8" y="371.4" font-size="7.6" text-anchor="middle" font-weight="normal" fill="#000" stroke="#000" stroke-width="0.38" >10</text>
<line x1="505.6" y1="359.0" x2="505.6" y2="361.2" stroke="#333" stroke-width="0.9" />
<text x="505.6" y="371.4" font-size="7.6" text-anchor="middle" font-weight="normal" fill="#000" stroke="#000" stroke-width="0.38" >15</text>
<text x="340" y="379.3" font-size="7.9" text-anchor="middle" fill="#000" stroke="#000" stroke-width="0.25"><tspan font-size="5.6" dy="-2.3">3</tspan><tspan dy="2.3">H-thymidine uptake (cpm x 10</tspan><tspan font-size="5.6" dy="-2.3">-4</tspan><tspan dy="2.3">)</tspan></text>
<text x="-0.8" y="410.1" font-size="25" text-anchor="start" font-weight="bold" fill="#000" >D</text>
<text transform="translate(31.5,400.6) scale(1.075,1.0)" font-size="9.45" text-anchor="start" font-weight="normal" fill="#000" stroke="#000" stroke-width="0.3" >DC (BALB/c)</text>
<line x1="31.7" y1="402.4" x2="90.0" y2="402.4" stroke="#222" stroke-width="1.1" />
<text transform="translate(127.0,400.6) scale(1.075,1.0)" font-size="9.45" text-anchor="middle" font-weight="normal" fill="#000" stroke="#000" stroke-width="0.3" >Hybrid</text>
<line x1="112.7" y1="402.4" x2="141.3" y2="402.4" stroke="#222" stroke-width="1.1" />
<line x1="58.4" y1="419.3" x2="62.6" y2="419.3" stroke="#000" stroke-width="1.7" />
<line x1="58.4" y1="432.8" x2="62.6" y2="432.8" stroke="#000" stroke-width="1.7" />
<line x1="58.4" y1="446.5" x2="62.6" y2="446.5" stroke="#000" stroke-width="1.7" />
<line x1="57.2" y1="460.5" x2="63.8" y2="460.5" stroke="#000" stroke-width="1.6" />
<line x1="60.5" y1="457.2" x2="60.5" y2="463.8" stroke="#000" stroke-width="1.6" />
<line x1="57.2" y1="474.0" x2="63.8" y2="474.0" stroke="#000" stroke-width="1.6" />
<line x1="60.5" y1="470.7" x2="60.5" y2="477.3" stroke="#000" stroke-width="1.6" />
<line x1="57.2" y1="487.8" x2="63.8" y2="487.8" stroke="#000" stroke-width="1.6" />
<line x1="60.5" y1="484.5" x2="60.5" y2="491.1" stroke="#000" stroke-width="1.6" />
<line x1="125.10000000000001" y1="419.3" x2="129.3" y2="419.3" stroke="#000" stroke-width="1.7" />
<text x="130.6" y="436.2" font-size="7.9" text-anchor="middle" font-weight="normal" fill="#000" stroke="#000" stroke-width="0.284" >Control DC-DC</text>
<text x="125.1" y="449.2" font-size="7.9" text-anchor="middle" font-weight="normal" fill="#000" stroke="#000" stroke-width="0.284" >Killer DC-DC (Clone 8)</text>
<line x1="125.10000000000001" y1="460.5" x2="129.3" y2="460.5" stroke="#000" stroke-width="1.7" />
<text x="130.6" y="475.9" font-size="7.9" text-anchor="middle" font-weight="normal" fill="#000" stroke="#000" stroke-width="0.284" >Control DC-DC</text>
<text x="125.1" y="489.9" font-size="7.9" text-anchor="middle" font-weight="normal" fill="#000" stroke="#000" stroke-width="0.284" >Killer DC-DC (Clone 8)</text>
<rect x="173.3" y="405.3" width="158.2" height="96.69999999999999" fill="none" stroke="#383838" stroke-width="1"/>
<text transform="translate(248.8,401.1) scale(1.075,1.0)" font-size="9.5" text-anchor="middle" font-weight="normal" fill="#000" stroke="#000" stroke-width="0.2" >CD4 T cells (A/J)</text>
<rect x="173.3" y="414.55" width="3.5" height="8.5" fill="#000"/>
<rect x="173.3" y="427.95" width="48.0" height="8.5" fill="#000"/>
<line x1="221.3" y1="432.2" x2="234.3" y2="432.2" stroke="#444" stroke-width="0.8" />
<line x1="234.3" y1="430.59999999999997" x2="234.3" y2="433.8" stroke="#444" stroke-width="0.8" />
<line x1="173.3" y1="445.7" x2="176.3" y2="445.7" stroke="#444" stroke-width="0.8" />
<line x1="176.3" y1="444.09999999999997" x2="176.3" y2="447.3" stroke="#444" stroke-width="0.8" />
<rect x="173.3" y="456.35" width="41.0" height="8.5" fill="#000"/>
<line x1="214.3" y1="460.6" x2="230.0" y2="460.6" stroke="#444" stroke-width="0.8" />
<line x1="230.0" y1="459.0" x2="230.0" y2="462.20000000000005" stroke="#444" stroke-width="0.8" />
<rect x="173.3" y="470.15" width="114.19999999999999" height="8.5" fill="#000"/>
<line x1="287.5" y1="474.4" x2="296.8" y2="474.4" stroke="#444" stroke-width="0.8" />
<line x1="296.8" y1="472.79999999999995" x2="296.8" y2="476.0" stroke="#444" stroke-width="0.8" />
<line x1="173.3" y1="487.5" x2="175.0" y2="487.5" stroke="#444" stroke-width="0.8" />
<line x1="175.0" y1="485.9" x2="175.0" y2="489.1" stroke="#444" stroke-width="0.8" />
<polyline points="248.7,418.8 252.0,418.8 252.0,433.0 248.7,433.0" fill="none" stroke="#333" stroke-width="1"/>
<polygon points="256.30,424.35 256.89,425.69 258.34,425.84 257.25,426.81 257.56,428.24 256.30,427.50 255.04,428.24 255.35,426.81 254.26,425.84 255.71,425.69" fill="#000" stroke="#000" stroke-width="0.3"/>
<polyline points="303.7,459.5 307.0,459.5 307.0,473.8 303.7,473.8" fill="none" stroke="#333" stroke-width="1"/>
<polygon points="310.50,465.55 311.09,466.89 312.54,467.04 311.45,468.01 311.76,469.44 310.50,468.70 309.24,469.44 309.55,468.01 308.46,467.04 309.91,466.89" fill="#000" stroke="#000" stroke-width="0.3"/>
<polyline points="316.0,460.0 319.3,460.0 319.3,488.8 316.0,488.8" fill="none" stroke="#333" stroke-width="1"/>
<polygon points="323.30,471.85 323.89,473.19 325.34,473.34 324.25,474.31 324.56,475.74 323.30,475.00 322.04,475.74 322.35,474.31 321.26,473.34 322.71,473.19" fill="#000" stroke="#000" stroke-width="0.3"/>
<line x1="172.9" y1="502.0" x2="172.9" y2="504.2" stroke="#333" stroke-width="0.9" />
<text x="172.9" y="514.1" font-size="7.7" text-anchor="middle" font-weight="normal" fill="#000" stroke="#000" stroke-width="0.385" >0</text>
<line x1="201.20000000000002" y1="502.0" x2="201.20000000000002" y2="504.2" stroke="#333" stroke-width="0.9" />
<text x="201.20000000000002" y="514.1" font-size="7.7" text-anchor="middle" font-weight="normal" fill="#000" stroke="#000" stroke-width="0.385" >5</text>
<line x1="229.5" y1="502.0" x2="229.5" y2="504.2" stroke="#333" stroke-width="0.9" />
<text x="229.5" y="514.1" font-size="7.7" text-anchor="middle" font-weight="normal" fill="#000" stroke="#000" stroke-width="0.385" >10</text>
<line x1="257.8" y1="502.0" x2="257.8" y2="504.2" stroke="#333" stroke-width="0.9" />
<text x="257.8" y="514.1" font-size="7.7" text-anchor="middle" font-weight="normal" fill="#000" stroke="#000" stroke-width="0.385" >15</text>
<line x1="286.1" y1="502.0" x2="286.1" y2="504.2" stroke="#333" stroke-width="0.9" />
<text x="286.1" y="514.1" font-size="7.7" text-anchor="middle" font-weight="normal" fill="#000" stroke="#000" stroke-width="0.385" >20</text>
<line x1="314.4" y1="502.0" x2="314.4" y2="504.2" stroke="#333" stroke-width="0.9" />
<text x="314.4" y="514.1" font-size="7.7" text-anchor="middle" font-weight="normal" fill="#000" stroke="#000" stroke-width="0.385" >25</text>
<rect x="360.6" y="404.3" width="154.69999999999993" height="94.59999999999997" fill="none" stroke="#383838" stroke-width="1"/>
<text transform="translate(437.8,400.6) scale(1.075,1.0)" font-size="9.5" text-anchor="middle" font-weight="normal" fill="#000" stroke="#000" stroke-width="0.2" >CD8 T cells (A/J)</text>
<rect x="360.6" y="413.65" width="2.8999999999999773" height="8.5" fill="#000"/>
<rect x="360.6" y="427.25" width="54.69999999999999" height="8.5" fill="#000"/>
<line x1="415.3" y1="431.5" x2="428.7" y2="431.5" stroke="#444" stroke-width="0.8" />
<line x1="428.7" y1="429.9" x2="428.7" y2="433.1" stroke="#444" stroke-width="0.8" />
<line x1="360.6" y1="444.7" x2="369.9" y2="444.7" stroke="#444" stroke-width="0.8" />
<line x1="369.9" y1="443.09999999999997" x2="369.9" y2="446.3" stroke="#444" stroke-width="0.8" />
<rect x="360.6" y="454.55" width="62.69999999999999" height="8.5" fill="#000"/>
<line x1="423.3" y1="458.8" x2="433.7" y2="458.8" stroke="#444" stroke-width="0.8" />
<line x1="433.7" y1="457.2" x2="433.7" y2="460.40000000000003" stroke="#444" stroke-width="0.8" />
<rect x="360.6" y="468.45" width="96.0" height="8.5" fill="#000"/>
<line x1="456.6" y1="472.7" x2="486.7" y2="472.7" stroke="#444" stroke-width="0.8" />
<line x1="486.7" y1="471.09999999999997" x2="486.7" y2="474.3" stroke="#444" stroke-width="0.8" />
<line x1="360.6" y1="486.6" x2="369.9" y2="486.6" stroke="#444" stroke-width="0.8" />
<line x1="369.9" y1="485.0" x2="369.9" y2="488.20000000000005" stroke="#444" stroke-width="0.8" />
<polyline points="434.2,416.7 437.5,416.7 437.5,431.0 434.2,431.0" fill="none" stroke="#333" stroke-width="1"/>
<polygon points="442.30,422.75 442.89,424.09 444.34,424.24 443.25,425.21 443.56,426.64 442.30,425.90 441.04,426.64 441.35,425.21 440.26,424.24 441.71,424.09" fill="#000" stroke="#000" stroke-width="0.3"/>
<polyline points="497.09999999999997,460.6 500.4,460.6 500.4,490.1 497.09999999999997,490.1" fill="none" stroke="#333" stroke-width="1"/>
<polygon points="504.40,474.05 504.99,475.39 506.44,475.54 505.35,476.51 505.66,477.94 504.40,477.20 503.14,477.94 503.45,476.51 502.36,475.54 503.81,475.39" fill="#000" stroke="#000" stroke-width="0.3"/>
<line x1="361.3" y1="498.9" x2="361.3" y2="501.09999999999997" stroke="#333" stroke-width="0.9" />
<text x="361.3" y="512.3" font-size="7.7" text-anchor="middle" font-weight="normal" fill="#000" stroke="#000" stroke-width="0.385" >0</text>
<line x1="391.34000000000003" y1="498.9" x2="391.34000000000003" y2="501.09999999999997" stroke="#333" stroke-width="0.9" />
<text x="391.34000000000003" y="512.3" font-size="7.7" text-anchor="middle" font-weight="normal" fill="#000" stroke="#000" stroke-width="0.385" >1</text>
<line x1="421.38" y1="498.9" x2="421.38" y2="501.09999999999997" stroke="#333" stroke-width="0.9" />
<text x="421.38" y="512.3" font-size="7.7" text-anchor="middle" font-weight="normal" fill="#000" stroke="#000" stroke-width="0.385" >2</text>
<line x1="451.42" y1="498.9" x2="451.42" y2="501.09999999999997" stroke="#333" stroke-width="0.9" />
<text x="451.42" y="512.3" font-size="7.7" text-anchor="middle" font-weight="normal" fill="#000" stroke="#000" stroke-width="0.385" >3</text>
<line x1="481.46000000000004" y1="498.9" x2="481.46000000000004" y2="501.09999999999997" stroke="#333" stroke-width="0.9" />
<text x="481.46000000000004" y="512.3" font-size="7.7" text-anchor="middle" font-weight="normal" fill="#000" stroke="#000" stroke-width="0.385" >4</text>
<line x1="511.5" y1="498.9" x2="511.5" y2="501.09999999999997" stroke="#333" stroke-width="0.9" />
<text x="511.5" y="512.3" font-size="7.7" text-anchor="middle" font-weight="normal" fill="#000" stroke="#000" stroke-width="0.385" >5</text>
<text x="340.5" y="522.5999999999999" font-size="7.9" text-anchor="middle" fill="#000" stroke="#000" stroke-width="0.25"><tspan font-size="5.6" dy="-2.3">3</tspan><tspan dy="2.3">H-thymidine uptake (cpm x 10</tspan><tspan font-size="5.6" dy="-2.3">-4</tspan><tspan dy="2.3">)</tspan></text>
<text x="1.5" y="560.0" font-size="25" text-anchor="start" font-weight="bold" fill="#000" >E</text>
<rect x="70.8" y="553.7" width="140.60000000000002" height="125.09999999999991" fill="none" stroke="#383838" stroke-width="1"/>
<line x1="68.2" y1="665.5" x2="70.8" y2="665.5" stroke="#333" stroke-width="0.9" />
<text transform="translate(65.8,668.4) scale(1.0,1.04)" font-size="8.0" text-anchor="end" font-weight="normal" fill="#000" stroke="#000" stroke-width="0.35" >0</text>
<line x1="68.2" y1="646.8" x2="70.8" y2="646.8" stroke="#333" stroke-width="0.9" />
<text transform="translate(65.8,649.6999999999999) scale(1.0,1.04)" font-size="8.0" text-anchor="end" font-weight="normal" fill="#000" stroke="#000" stroke-width="0.35" >10</text>
<line x1="68.2" y1="628.1" x2="70.8" y2="628.1" stroke="#333" stroke-width="0.9" />
<text transform="translate(65.8,631.0) scale(1.0,1.04)" font-size="8.0" text-anchor="end" font-weight="normal" fill="#000" stroke="#000" stroke-width="0.35" >20</text>
<line x1="68.2" y1="609.4" x2="70.8" y2="609.4" stroke="#333" stroke-width="0.9" />
<text transform="translate(65.8,612.3) scale(1.0,1.04)" font-size="8.0" text-anchor="end" font-weight="normal" fill="#000" stroke="#000" stroke-width="0.35" >30</text>
<line x1="68.2" y1="590.7" x2="70.8" y2="590.7" stroke="#333" stroke-width="0.9" />
<text transform="translate(65.8,593.6) scale(1.0,1.04)" font-size="8.0" text-anchor="end" font-weight="normal" fill="#000" stroke="#000" stroke-width="0.35" >40</text>
<line x1="68.2" y1="572.0" x2="70.8" y2="572.0" stroke="#333" stroke-width="0.9" />
<text transform="translate(65.8,574.9) scale(1.0,1.04)" font-size="8.0" text-anchor="end" font-weight="normal" fill="#000" stroke="#000" stroke-width="0.35" >50</text>
<line x1="84.5" y1="678.8" x2="84.5" y2="681.1999999999999" stroke="#333" stroke-width="0.9" />
<text x="79.7" y="692.8" font-size="7.9" text-anchor="middle" font-weight="normal" fill="#000" stroke="#000" stroke-width="0.284" >0.0016</text>
<line x1="112.3" y1="678.8" x2="112.3" y2="681.1999999999999" stroke="#333" stroke-width="0.9" />
<text x="109.7" y="692.8" font-size="7.9" text-anchor="middle" font-weight="normal" fill="#000" stroke="#000" stroke-width="0.284" >0.008</text>
<line x1="140.1" y1="678.8" x2="140.1" y2="681.1999999999999" stroke="#333" stroke-width="0.9" />
<text x="139.4" y="692.8" font-size="7.9" text-anchor="middle" font-weight="normal" fill="#000" stroke="#000" stroke-width="0.284" >0.04</text>
<line x1="167.8" y1="678.8" x2="167.8" y2="681.1999999999999" stroke="#333" stroke-width="0.9" />
<text x="169.7" y="692.8" font-size="7.9" text-anchor="middle" font-weight="normal" fill="#000" stroke="#000" stroke-width="0.284" >0.2</text>
<line x1="196.5" y1="678.8" x2="196.5" y2="681.1999999999999" stroke="#333" stroke-width="0.9" />
<text x="196.6" y="692.8" font-size="7.9" text-anchor="middle" font-weight="normal" fill="#000" stroke="#000" stroke-width="0.284" >1</text>
<text x="139.2" y="705.1" font-size="7.9" text-anchor="middle" font-weight="normal" fill="#000" stroke="#000" stroke-width="0.284" >E/T ratio</text>
<line x1="112.3" y1="604.4" x2="112.3" y2="642.3" stroke="#555" stroke-width="0.8" />
<line x1="110.8" y1="604.4" x2="113.8" y2="604.4" stroke="#555" stroke-width="0.8" />
<line x1="110.8" y1="642.3" x2="113.8" y2="642.3" stroke="#555" stroke-width="0.8" />
<line x1="140.1" y1="597.0" x2="140.1" y2="602.0" stroke="#555" stroke-width="0.8" />
<line x1="138.6" y1="597.0" x2="141.6" y2="597.0" stroke="#555" stroke-width="0.8" />
<line x1="138.6" y1="602.0" x2="141.6" y2="602.0" stroke="#555" stroke-width="0.8" />
<line x1="167.8" y1="571.7" x2="167.8" y2="588.0" stroke="#555" stroke-width="0.8" />
<line x1="166.3" y1="571.7" x2="169.3" y2="571.7" stroke="#555" stroke-width="0.8" />
<line x1="166.3" y1="588.0" x2="169.3" y2="588.0" stroke="#555" stroke-width="0.8" />
<line x1="196.5" y1="574.4" x2="196.5" y2="597.0" stroke="#555" stroke-width="0.8" />
<line x1="195.0" y1="574.4" x2="198.0" y2="574.4" stroke="#555" stroke-width="0.8" />
<line x1="195.0" y1="597.0" x2="198.0" y2="597.0" stroke="#555" stroke-width="0.8" />
<line x1="84.5" y1="662.5" x2="84.5" y2="673.0" stroke="#555" stroke-width="0.8" />
<line x1="83.0" y1="662.5" x2="86.0" y2="662.5" stroke="#555" stroke-width="0.8" />
<line x1="83.0" y1="673.0" x2="86.0" y2="673.0" stroke="#555" stroke-width="0.8" />
<line x1="112.3" y1="652.7" x2="112.3" y2="666.8" stroke="#555" stroke-width="0.8" />
<line x1="110.8" y1="652.7" x2="113.8" y2="652.7" stroke="#555" stroke-width="0.8" />
<line x1="110.8" y1="666.8" x2="113.8" y2="666.8" stroke="#555" stroke-width="0.8" />
<line x1="140.1" y1="655.0" x2="140.1" y2="671.4" stroke="#555" stroke-width="0.8" />
<line x1="138.6" y1="655.0" x2="141.6" y2="655.0" stroke="#555" stroke-width="0.8" />
<line x1="138.6" y1="671.4" x2="141.6" y2="671.4" stroke="#555" stroke-width="0.8" />
<line x1="167.8" y1="660.9" x2="167.8" y2="669.1" stroke="#555" stroke-width="0.8" />
<line x1="166.3" y1="660.9" x2="169.3" y2="660.9" stroke="#555" stroke-width="0.8" />
<line x1="166.3" y1="669.1" x2="169.3" y2="669.1" stroke="#555" stroke-width="0.8" />
<polyline points="84.5,653.4 112.3,622.7 140.1,599.5 167.8,579.9 196.5,586.0" fill="none" stroke="#000" stroke-width="1.4"/>
<polyline points="84.5,667.5 112.3,659.9 140.1,663.2 167.8,664.8 196.5,652.4" fill="none" stroke="#000" stroke-width="1.2"/>
<circle cx="84.5" cy="653.4" r="2.5" fill="#000"/>
<circle cx="112.3" cy="622.7" r="2.5" fill="#000"/>
<circle cx="140.1" cy="599.5" r="2.5" fill="#000"/>
<circle cx="167.8" cy="579.9" r="2.5" fill="#000"/>
<circle cx="196.5" cy="586.0" r="2.5" fill="#000"/>
<circle cx="84.5" cy="667.5" r="2.4" fill="#fff" stroke="#000" stroke-width="0.9"/>
<circle cx="112.3" cy="659.9" r="2.4" fill="#fff" stroke="#000" stroke-width="0.9"/>
<circle cx="140.1" cy="663.2" r="2.4" fill="#fff" stroke="#000" stroke-width="0.9"/>
<circle cx="167.8" cy="664.8" r="2.4" fill="#fff" stroke="#000" stroke-width="0.9"/>
<circle cx="196.5" cy="652.4" r="2.4" fill="#fff" stroke="#000" stroke-width="0.9"/>
<rect x="264.0" y="555.4" width="141.3" height="125.10000000000002" fill="none" stroke="#383838" stroke-width="1"/>
<line x1="261.4" y1="665.8" x2="264.0" y2="665.8" stroke="#333" stroke-width="0.9" />
<text transform="translate(257.8,668.6999999999999) scale(1.0,1.04)" font-size="8.0" text-anchor="end" font-weight="normal" fill="#000" stroke="#000" stroke-width="0.35" >0</text>
<line x1="261.4" y1="647.0999999999999" x2="264.0" y2="647.0999999999999" stroke="#333" stroke-width="0.9" />
<text transform="translate(257.8,649.9999999999999) scale(1.0,1.04)" font-size="8.0" text-anchor="end" font-weight="normal" fill="#000" stroke="#000" stroke-width="0.35" >10</text>
<line x1="261.4" y1="628.4" x2="264.0" y2="628.4" stroke="#333" stroke-width="0.9" />
<text transform="translate(257.8,631.3) scale(1.0,1.04)" font-size="8.0" text-anchor="end" font-weight="normal" fill="#000" stroke="#000" stroke-width="0.35" >20</text>
<line x1="261.4" y1="609.6999999999999" x2="264.0" y2="609.6999999999999" stroke="#333" stroke-width="0.9" />
<text transform="translate(257.8,612.5999999999999) scale(1.0,1.04)" font-size="8.0" text-anchor="end" font-weight="normal" fill="#000" stroke="#000" stroke-width="0.35" >30</text>
<line x1="261.4" y1="591.0" x2="264.0" y2="591.0" stroke="#333" stroke-width="0.9" />
<text transform="translate(257.8,593.9) scale(1.0,1.04)" font-size="8.0" text-anchor="end" font-weight="normal" fill="#000" stroke="#000" stroke-width="0.35" >40</text>
<line x1="261.4" y1="572.3" x2="264.0" y2="572.3" stroke="#333" stroke-width="0.9" />
<text transform="translate(257.8,575.1999999999999) scale(1.0,1.04)" font-size="8.0" text-anchor="end" font-weight="normal" fill="#000" stroke="#000" stroke-width="0.35" >50</text>
<line x1="277.3" y1="680.5" x2="277.3" y2="682.9" stroke="#333" stroke-width="0.9" />
<text x="276.1" y="692.8" font-size="7.9" text-anchor="middle" font-weight="normal" fill="#000" stroke="#000" stroke-width="0.284" >0.0016</text>
<line x1="306.2" y1="680.5" x2="306.2" y2="682.9" stroke="#333" stroke-width="0.9" />
<text x="305.6" y="692.8" font-size="7.9" text-anchor="middle" font-weight="normal" fill="#000" stroke="#000" stroke-width="0.284" >0.008</text>
<line x1="334.4" y1="680.5" x2="334.4" y2="682.9" stroke="#333" stroke-width="0.9" />
<text x="334.3" y="692.8" font-size="7.9" text-anchor="middle" font-weight="normal" fill="#000" stroke="#000" stroke-width="0.284" >0.04</text>
<line x1="362.7" y1="680.5" x2="362.7" y2="682.9" stroke="#333" stroke-width="0.9" />
<text x="361.8" y="692.8" font-size="7.9" text-anchor="middle" font-weight="normal" fill="#000" stroke="#000" stroke-width="0.284" >0.2</text>
<line x1="390.8" y1="680.5" x2="390.8" y2="682.9" stroke="#333" stroke-width="0.9" />
<text x="390.5" y="692.8" font-size="7.9" text-anchor="middle" font-weight="normal" fill="#000" stroke="#000" stroke-width="0.284" >1</text>
<text x="333.3" y="705.1" font-size="7.9" text-anchor="middle" font-weight="normal" fill="#000" stroke="#000" stroke-width="0.284" >E/T ratio</text>
<line x1="277.3" y1="641.5" x2="277.3" y2="674.0" stroke="#555" stroke-width="0.8" />
<line x1="275.8" y1="641.5" x2="278.8" y2="641.5" stroke="#555" stroke-width="0.8" />
<line x1="275.8" y1="674.0" x2="278.8" y2="674.0" stroke="#555" stroke-width="0.8" />
<line x1="306.2" y1="633.0" x2="306.2" y2="637.7" stroke="#555" stroke-width="0.8" />
<line x1="304.7" y1="633.0" x2="307.7" y2="633.0" stroke="#555" stroke-width="0.8" />
<line x1="304.7" y1="637.7" x2="307.7" y2="637.7" stroke="#555" stroke-width="0.8" />
<line x1="334.4" y1="568.5" x2="334.4" y2="596.3" stroke="#555" stroke-width="0.8" />
<line x1="332.9" y1="568.5" x2="335.9" y2="568.5" stroke="#555" stroke-width="0.8" />
<line x1="332.9" y1="596.3" x2="335.9" y2="596.3" stroke="#555" stroke-width="0.8" />
<line x1="390.8" y1="559.5" x2="390.8" y2="569.7" stroke="#555" stroke-width="0.8" />
<line x1="389.3" y1="559.5" x2="392.3" y2="559.5" stroke="#555" stroke-width="0.8" />
<line x1="389.3" y1="569.7" x2="392.3" y2="569.7" stroke="#555" stroke-width="0.8" />
<line x1="277.3" y1="642.3" x2="277.3" y2="680.5" stroke="#555" stroke-width="0.8" />
<line x1="275.8" y1="642.3" x2="278.8" y2="642.3" stroke="#555" stroke-width="0.8" />
<line x1="275.8" y1="680.5" x2="278.8" y2="680.5" stroke="#555" stroke-width="0.8" />
<line x1="306.2" y1="659.6" x2="306.2" y2="675.0" stroke="#555" stroke-width="0.8" />
<line x1="304.7" y1="659.6" x2="307.7" y2="659.6" stroke="#555" stroke-width="0.8" />
<line x1="304.7" y1="675.0" x2="307.7" y2="675.0" stroke="#555" stroke-width="0.8" />
<line x1="334.4" y1="644.2" x2="334.4" y2="680.5" stroke="#555" stroke-width="0.8" />
<line x1="332.9" y1="644.2" x2="335.9" y2="644.2" stroke="#555" stroke-width="0.8" />
<line x1="332.9" y1="680.5" x2="335.9" y2="680.5" stroke="#555" stroke-width="0.8" />
<line x1="362.7" y1="666.0" x2="362.7" y2="680.5" stroke="#555" stroke-width="0.8" />
<line x1="361.2" y1="666.0" x2="364.2" y2="666.0" stroke="#555" stroke-width="0.8" />
<line x1="361.2" y1="680.5" x2="364.2" y2="680.5" stroke="#555" stroke-width="0.8" />
<line x1="390.8" y1="627.9" x2="390.8" y2="668.2" stroke="#555" stroke-width="0.8" />
<line x1="389.3" y1="627.9" x2="392.3" y2="627.9" stroke="#555" stroke-width="0.8" />
<line x1="389.3" y1="668.2" x2="392.3" y2="668.2" stroke="#555" stroke-width="0.8" />
<polyline points="277.3,657.7 306.2,635.0 334.4,582.3 362.7,569.9 390.8,564.5" fill="none" stroke="#000" stroke-width="1.4"/>
<polyline points="277.3,667.3 306.2,667.3 334.4,663.8 362.7,676.2 390.8,648.5" fill="none" stroke="#000" stroke-width="1.2"/>
<circle cx="277.3" cy="657.7" r="2.5" fill="#000"/>
<circle cx="306.2" cy="635.0" r="2.5" fill="#000"/>
<circle cx="334.4" cy="582.3" r="2.5" fill="#000"/>
<circle cx="362.7" cy="569.9" r="2.5" fill="#000"/>
<circle cx="390.8" cy="564.5" r="2.5" fill="#000"/>
<circle cx="277.3" cy="667.3" r="2.4" fill="#fff" stroke="#000" stroke-width="0.9"/>
<circle cx="306.2" cy="667.3" r="2.4" fill="#fff" stroke="#000" stroke-width="0.9"/>
<circle cx="334.4" cy="663.8" r="2.4" fill="#fff" stroke="#000" stroke-width="0.9"/>
<circle cx="362.7" cy="676.2" r="2.4" fill="#fff" stroke="#000" stroke-width="0.9"/>
<circle cx="390.8" cy="648.5" r="2.4" fill="#fff" stroke="#000" stroke-width="0.9"/>
<text transform="translate(108.5,549.5) scale(1.07,1.0)" font-size="9.4" text-anchor="start" font-weight="normal" fill="#000" stroke="#000" stroke-width="0.2" >A/J</text>
<line x1="127.0" y1="545.6" x2="131.4" y2="545.6" stroke="#111" stroke-width="0.9" />
<polygon points="130.79999999999998,544.1 133.6,545.6 130.79999999999998,547.1" fill="#000"/>
<text transform="translate(139.0,549.5) scale(1.07,1.0)" font-size="9.4" text-anchor="start" font-weight="normal" fill="#000" stroke="#000" stroke-width="0.2" >BALB/c</text>
<text transform="translate(303.2,549.6) scale(1.07,1.0)" font-size="9.4" text-anchor="start" font-weight="normal" fill="#000" stroke="#000" stroke-width="0.2" >BALB/c</text>
<line x1="341.2" y1="545.7" x2="345.1" y2="545.7" stroke="#111" stroke-width="0.9" />
<polygon points="344.5,544.2 347.3,545.7 344.5,547.2" fill="#000"/>
<text transform="translate(352.8,549.6) scale(1.07,1.0)" font-size="9.4" text-anchor="start" font-weight="normal" fill="#000" stroke="#000" stroke-width="0.2" >A/J</text>
<text transform="translate(39.2,615.7) rotate(-90) scale(1,1.09)" font-size="7.8" text-anchor="middle" fill="#000" stroke="#000" stroke-width="0.3">% <tspan font-size="5.6" dy="-2.4">3</tspan><tspan dy="2.4">H-thymidine release</tspan></text>
</svg></div>
</body></html>
